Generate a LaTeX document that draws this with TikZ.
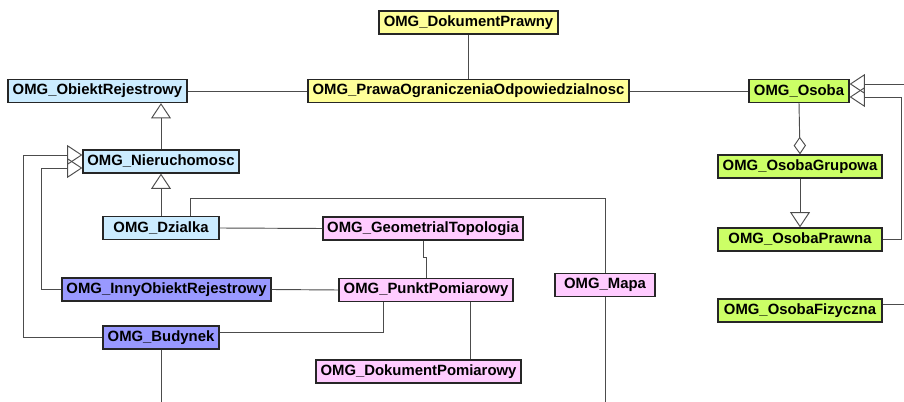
\documentclass[tikz,border=0pt]{standalone}
\usepackage{fontspec}
\setmainfont{Liberation Sans}
\usepackage{tikz}
\usetikzlibrary{arrows.meta,calc}
\definecolor{omgblue}{RGB}{204,236,255}
\definecolor{omgyellow}{RGB}{255,255,153}
\definecolor{omggreen}{RGB}{204,255,102}
\definecolor{omgviolet}{RGB}{153,153,255}
\definecolor{omgpink}{RGB}{255,204,255}
\newcommand{\omgpx}{0.03cm}
\tikzset{
  klasa/.style={draw=black!85, line width=1.1pt, inner sep=0pt,
    minimum height=23*\omgpx, font=\fontsize{12.7}{14}\selectfont\bfseries},
  rel/.style={draw=black!70, line width=0.8pt},
  gen/.style={rel, -{Triangle[open, length=13pt, width=17pt]}},
  agg/.style={rel, -{Diamond[open, length=15pt, width=10.5pt]}}
}

\begin{document}
\begin{tikzpicture}[x=\omgpx, y=-\omgpx]
\useasboundingbox (0,0) rectangle (904,402);
\coordinate (unten) at (0,402);
\coordinate (rechts) at (904,0);

% Classes
\node[klasa, fill=omgyellow, minimum width=179*\omgpx] (dokprawny) at (468.5,22.5) {OMG\_DokumentPrawny};
\node[klasa, fill=omgblue, minimum width=179*\omgpx] (obiekt) at (97.5,91) {OMG\_ObiektRejestrowy};
\node[klasa, fill=omgyellow, minimum width=321*\omgpx] (prawa) at (468.5,91) {OMG\_PrawaOgraniczeniaOdpowiedzialnosc};
\node[klasa, fill=omggreen, minimum width=100*\omgpx] (osoba) at (799,91) {OMG\_Osoba};
\node[klasa, fill=omgblue, minimum width=156*\omgpx] (nier) at (161,161.5) {OMG\_Nieruchomosc};
\node[klasa, fill=omggreen, minimum width=164*\omgpx] (grupowa) at (800,166.5) {OMG\_OsobaGrupowa};
\node[klasa, fill=omgblue, minimum width=116*\omgpx] (dzialka) at (161,228) {OMG\_Dzialka};
\node[klasa, fill=omgpink, minimum width=200*\omgpx] (geo) at (423,228.5) {OMG\_GeometrialTopologia};
\node[klasa, fill=omggreen, minimum width=164*\omgpx] (prawna) at (800,239.5) {OMG\_OsobaPrawna};
\node[klasa, fill=omgviolet, minimum width=209*\omgpx] (inny) at (166.5,289.5) {OMG\_InnyObiektRejestrowy};
\node[klasa, fill=omgpink, minimum width=174*\omgpx] (punkt) at (426,290) {OMG\_PunktPomiarowy};
\node[klasa, fill=omgpink, minimum width=100*\omgpx] (mapa) at (605,285) {OMG\_Mapa};
\node[klasa, fill=omggreen, minimum width=164*\omgpx] (fizyczna) at (800,310.5) {OMG\_OsobaFizyczna};
\node[klasa, fill=omgviolet, minimum width=116*\omgpx] (budynek) at (161,337.5) {OMG\_Budynek};
\node[klasa, fill=omgpink, minimum width=205*\omgpx] (dokpom) at (418.5,371.5) {OMG\_DokumentPomiarowy};

% Associations
\draw[rel] (obiekt.east) -- (prawa.west);
\draw[rel] (dokprawny.south) -- (prawa.north);
\draw[rel] (prawa.east) -- (osoba.west);
\draw[rel] (dzialka.east) -- (geo.west);
\draw[rel] (geo.south) -- ++(0,17) -| (punkt.north);
\draw[rel] (inny.east) -- (punkt.west);
\draw[rel] ($(budynek.east)+(0,-5.5)$) -| ($(punkt.south)+(-43,0)$);
\coordinate (p1) at ($(punkt.south)+(44,0)$);
\draw[rel] (p1) -- (p1 |- dokpom.north);
\coordinate (d1) at ($(dzialka.north)+(29,0)$);
\draw[rel] (d1) |- ($(mapa.north)+(0,-74)$) -- (mapa.north);
\draw[rel] (mapa.south) -- (mapa.south |- unten);
\draw[rel] (budynek.south) -- (budynek.south |- unten);
\coordinate (f1) at ($(fizyczna.east)+(0,-6)$);
\draw[rel] (f1) -- (f1 -| rechts);

% Generalizations
\draw[gen] (nier.north) -- (nier.north |- obiekt.south);
\draw[gen] (dzialka.north) -- (nier.south);
\draw[gen] (budynek.west) -| ($(nier.west)+(-59,-6.5)$) -- ($(nier.west)+(0,-6.5)$);
\draw[gen] (inny.west) -| ($(nier.west)+(-41,6.5)$) -- ($(nier.west)+(0,6.5)$);
\draw[gen] (grupowa.south) -- (prawna.north);
\draw[gen] (prawna.east) -| ($(osoba.east)+(52,6)$) -- ($(osoba.east)+(0,6)$);
\coordinate (o1) at ($(osoba.east)+(0,-7)$);
\draw[gen] (o1 -| rechts) -- (o1);
\draw[agg] (osoba.south) -- (grupowa.north);
\end{tikzpicture}
\end{document}
